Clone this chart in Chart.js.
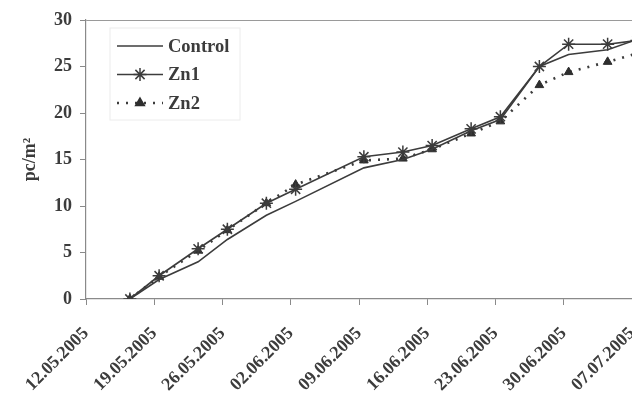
<!DOCTYPE html>
<html lang="en">
<head>
<meta charset="UTF-8">
<title>pc/m2</title>
<style>
  html, body { margin: 0; padding: 0; overflow: hidden; background: #fff; }
</style>
</head>
<body>
<div style="width: 640px; height: 396px;">
  <canvas id="chart1" width="640" height="396"></canvas>
</div>
<script src="https://cdn.jsdelivr.net/npm/chart.js"></script>
<script>
  // weekly tick labels, day 0 = 12.05.2005
  const dateLabels = ['12.05.2005', '19.05.2005', '26.05.2005', '02.06.2005', '09.06.2005',
                      '16.06.2005', '23.06.2005', '30.06.2005', '07.07.2005'];
  // sampling days counted from 12.05.2005
  const sampleDays = [4.5, 7.5, 11.5, 14.5, 18.5, 21.5, 28.5, 32.5, 35.5, 39.5, 42.5, 46.5, 49.5, 53.5, 56.5];
  const control = [0, 2.1, 4.0, 6.4, 9.0, 10.5, 14.1, 15.0, 16.1, 18.1, 19.3, 25.0, 26.3, 26.8, 27.9];
  const zn1     = [0, 2.5, 5.4, 7.5, 10.3, 11.8, 15.3, 15.8, 16.5, 18.3, 19.6, 25.0, 27.4, 27.4, 27.8];
  const zn2     = [0, 2.4, 5.2, 7.4, 10.3, 12.3, 14.9, 15.1, 16.1, 17.8, 19.1, 23.0, 24.4, 25.5, 26.4];

  const ink = '#3c3c3c';
  const serif = '"Liberation Serif", "DejaVu Serif", serif';

  const pts = arr => arr.map((v, i) => ({ x: sampleDays[i], y: v }));

  // legend drawn inside the plot, like the original
  const insideLegend = {
    id: 'insideLegend',
    afterDatasetsDraw(chart) {
      const c = chart.ctx;
      const a = chart.chartArea;
      const x0 = a.left + 24, y0 = a.top + 8;
      c.save();
      c.strokeStyle = '#ececec';
      c.lineWidth = 1;
      c.strokeRect(x0, y0, 130, 92);
      chart.data.datasets.forEach((ds, i) => {
        const y = y0 + 18 + i * 28.5;
        c.strokeStyle = ds.borderColor;
        c.lineWidth = ds.borderWidth;
        c.setLineDash(ds.borderDash || []);
        c.beginPath();
        c.moveTo(x0 + 7, y);
        c.lineTo(x0 + 53, y);
        c.stroke();
        c.setLineDash([]);
        if (ds.pointRadius > 0) {
          c.fillStyle = ds.pointBackgroundColor;
          c.strokeStyle = ds.pointBorderColor;
          c.lineWidth = 1.5;
          Chart.helpers.drawPoint(c, {
            pointStyle: ds.pointStyle,
            radius: ds.pointRadius,
            borderWidth: 1.5,
            rotation: 0
          }, x0 + 30, y);
        }
        c.fillStyle = ink;
        c.font = 'bold 18.5px ' + serif;
        c.textBaseline = 'middle';
        c.fillText(ds.label, x0 + 58, y + 1);
      });
      c.restore();
    }
  };

  const ctx = document.getElementById('chart1');

  const grafico = new Chart(ctx, {
    type: 'line',
    data: {
      datasets: [
        {
          label: 'Control',
          data: pts(control),
          borderColor: ink,
          borderWidth: 1.6,
          pointRadius: 0,
          tension: 0
        },
        {
          label: 'Zn1',
          data: pts(zn1),
          borderColor: ink,
          borderWidth: 1.6,
          pointStyle: 'star',
          pointRadius: 6.5,
          pointBorderColor: ink,
          pointBackgroundColor: ink,
          pointBorderWidth: 1.5,
          tension: 0
        },
        {
          label: 'Zn2',
          data: pts(zn2),
          borderColor: ink,
          borderWidth: 2.6,
          borderDash: [2, 7],
          pointStyle: 'triangle',
          pointRadius: 5,
          pointBorderColor: '#2e2e2e',
          pointBackgroundColor: '#2e2e2e',
          pointBorderWidth: 1,
          tension: 0
        }
      ]
    },
    options: {
      responsive: false,
      animation: false,
      layout: { padding: { top: 20, right: 7, left: 0, bottom: 0 } },
      plugins: {
        legend: { display: false },
        tooltip: { enabled: false }
      },
      scales: {
        x: {
          type: 'linear',
          min: 0,
          max: 56,
          afterFit: s => { s.height = 97; s.paddingLeft = 0; s.paddingRight = 0; },
          border: { color: '#8a8a8a', width: 1.2 },
          grid: { drawOnChartArea: false, tickLength: 6, tickColor: '#8a8a8a' },
          ticks: {
            stepSize: 7,
            autoSkip: false,
            minRotation: 45,
            maxRotation: 45,
            padding: 18,
            color: ink,
            font: { family: serif, size: 18, weight: 'bold' },
            callback: v => dateLabels[Math.round(v / 7)]
          }
        },
        y: {
          min: 0,
          max: 30,
          afterFit: s => { s.width = 86; },
          border: { color: '#8a8a8a', width: 1.2 },
          grid: {
            color: c => c.tick && c.tick.value === 30 ? '#9a9a9a' : 'rgba(0,0,0,0)',
            tickLength: 6,
            tickColor: '#8a8a8a'
          },
          ticks: {
            stepSize: 5,
            padding: 8,
            color: ink,
            font: { family: serif, size: 18, weight: 'bold' }
          },
          title: {
            display: true,
            text: 'pc/m²',
            color: ink,
            padding: { top: 20 },
            font: { family: serif, size: 18, weight: 'bold' }
          }
        }
      }
    },
    plugins: [insideLegend]
  });
</script>
</body>
</html>
